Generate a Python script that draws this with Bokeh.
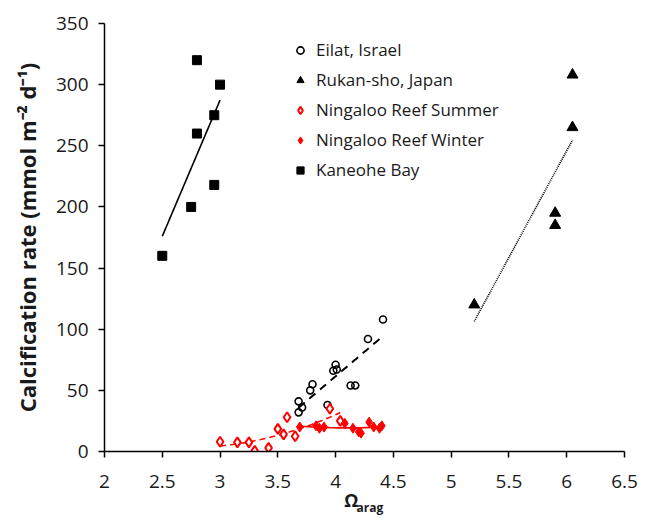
import numpy as np
from bokeh.plotting import figure
from bokeh.models import Range1d, FixedTicker, Legend, LegendItem, LinearAxis
from bokeh.embed import file_html
from bokeh.resources import INLINE

# Aragonite saturation state (Omega_arag) vs. calcification rate (mmol m-2 d-1)
eilat_omega = [4.41, 4.28, 4.00, 3.98, 4.01, 4.13, 4.17, 3.80, 3.78, 3.68, 3.71, 3.68, 3.93]
eilat_rate = [108, 92, 71, 66, 67, 54, 54, 55, 50, 41, 36, 32, 38]

rukan_omega = [5.20, 5.90, 5.90, 6.05, 6.05]
rukan_rate = [120, 185, 195, 265, 308]

summer_omega = [3.00, 3.15, 3.25, 3.30, 3.42, 3.50, 3.55, 3.58, 3.65, 3.95, 4.04]
summer_rate = [8, 7.5, 7.5, 0.5, 3, 18.5, 14, 28, 12.5, 35, 25]

winter_omega = [3.69, 3.83, 3.86, 3.90, 4.08, 4.15, 4.20, 4.22, 4.29, 4.33, 4.38, 4.40]
winter_rate = [20, 21, 19, 20, 23, 19, 16, 15, 24, 20, 19, 21]

kaneohe_omega = [2.50, 2.75, 2.80, 2.80, 2.95, 2.95, 3.00]
kaneohe_rate = [160, 200, 320, 260, 218, 275, 300]

x_ticks = [2, 2.5, 3, 3.5, 4, 4.5, 5, 5.5, 6, 6.5]
x_tick_labels = ["2", "2.5", "3", "3.5", "4", "4.5", "5", "5.5", "6", "6.5"]
y_ticks = [0, 50, 100, 150, 200, 250, 300, 350]

FONT = "Open Sans"
TEXT = "#1a1a1a"
RED = "#ff0000"


def trend(xs, ys, deg, n=60):
    """Least-squares fit over the range of the data."""
    coef = np.polyfit(xs, ys, deg)
    gx = np.linspace(min(xs), max(xs), n)
    return gx, np.polyval(coef, gx)


def text_axis(at, label, size, standoff):
    """A bare axis used only to carry one piece of the x-axis title."""
    ax = LinearAxis(ticker=FixedTicker(ticks=[at]),
                    major_label_overrides={at: label})
    ax.axis_line_color = None
    ax.major_tick_line_color = None
    ax.minor_tick_line_color = None
    ax.major_tick_in = 0
    ax.major_tick_out = 0
    ax.major_label_standoff = standoff
    ax.major_label_text_font = FONT
    ax.major_label_text_font_style = "bold"
    ax.major_label_text_font_size = size
    ax.major_label_text_color = TEXT
    return ax


p = figure(width=647, height=518, output_backend="svg", toolbar_location=None,
           x_range=Range1d(2, 6.5), y_range=Range1d(0, 350),
           min_border_left=104, min_border_right=23, min_border_top=23,
           min_border_bottom=67)
p.outline_line_color = None
p.grid.visible = False
p.background_fill_color = "white"
p.border_fill_color = "white"

for ax in (p.xaxis[0], p.yaxis[0]):
    ax.axis_line_width = 1.5
    ax.axis_line_color = "black"
    ax.major_tick_line_color = "black"
    ax.major_tick_line_width = 1.5
    ax.major_tick_in = 0
    ax.major_tick_out = 6
    ax.minor_tick_line_color = None
    ax.major_label_text_font = FONT
    ax.major_label_text_font_size = "19px"
    ax.major_label_text_color = TEXT

p.xaxis.ticker = FixedTicker(ticks=x_ticks)
p.xaxis.major_label_overrides = {t: s for t, s in zip(x_ticks, x_tick_labels)}
p.xaxis.major_label_standoff = 17
p.yaxis.ticker = FixedTicker(ticks=y_ticks)
p.yaxis.major_label_standoff = 10

p.yaxis.axis_label = "Calcification rate (mmol m\u207b\u00b2 d\u207b\u00b9)"
p.yaxis.axis_label_text_font = FONT
p.yaxis.axis_label_text_font_style = "bold"
p.yaxis.axis_label_text_font_size = "22px"
p.yaxis.axis_label_text_color = TEXT
p.yaxis.axis_label_standoff = 11

# x axis title: Omega with subscript "arag"
p.add_layout(text_axis(4.135, "\u03a9", "18px", -3), "below")
p.add_layout(text_axis(4.297, "arag", "12px", -16), "below")

# trend lines
kx, ky = trend(kaneohe_omega, kaneohe_rate, 1)
p.line(kx, ky, line_color="black", line_width=1.6)
rx, ry = trend(rukan_omega, rukan_rate, 1)
p.line(rx, ry, line_color="black", line_width=1.6, line_dash="1 1")
ex, ey = trend(eilat_omega, eilat_rate, 1)
p.line(ex, ey, line_color="black", line_width=2, line_dash="8 6")
sx, sy = trend(summer_omega, summer_rate, 2)
p.line(sx, sy, line_color=RED, line_width=1.6, line_dash="6 4")
wx, wy = trend(winter_omega, winter_rate, 2)
p.line(wx, wy, line_color=RED, line_width=1.6)

# data points
r_eilat = p.scatter(eilat_omega, eilat_rate, marker="circle", size=7,
                    fill_color=None, line_color="black", line_width=1.6)
r_rukan = p.scatter(rukan_omega, rukan_rate, marker="triangle", size=11,
                    fill_color="black", line_color="black")
r_summer = p.scatter(summer_omega, summer_rate, marker="diamond", size=10,
                     fill_color="white", line_color=RED, line_width=2)
r_winter = p.scatter(winter_omega, winter_rate, marker="diamond", size=10,
                     fill_color=RED, line_color=RED)
r_kaneohe = p.scatter(kaneohe_omega, kaneohe_rate, marker="square", size=9,
                      fill_color="black", line_color="black")

legend = Legend(items=[
    LegendItem(label="Eilat, Israel", renderers=[r_eilat]),
    LegendItem(label="Rukan-sho, Japan", renderers=[r_rukan]),
    LegendItem(label="Ningaloo Reef Summer", renderers=[r_summer]),
    LegendItem(label="Ningaloo Reef Winter", renderers=[r_winter]),
    LegendItem(label="Kaneohe Bay", renderers=[r_kaneohe]),
], location=(187, 270))
legend.border_line_color = None
legend.background_fill_alpha = 0
legend.padding = 8
legend.spacing = 7
legend.glyph_width = 18
legend.glyph_height = 20
legend.label_height = 20
legend.label_standoff = 7
legend.label_text_font = FONT
legend.label_text_font_size = "17px"
legend.label_text_color = TEXT
p.add_layout(legend, "center")

open("out.html", "w").write(file_html(p, INLINE))
